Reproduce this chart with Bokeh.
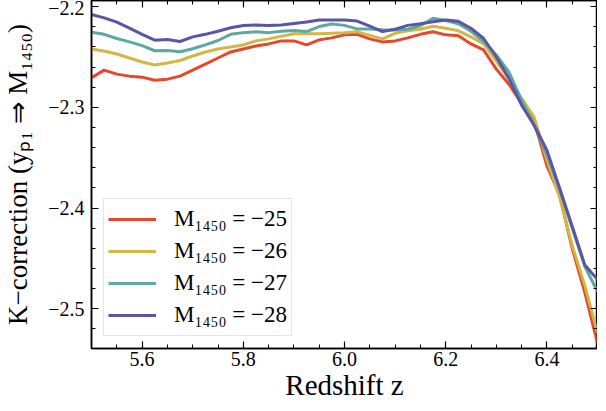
from bokeh.plotting import figure
from bokeh.models import LinearAxis, Range1d, SingleIntervalTicker, CustomJSTickFormatter
from bokeh.embed import file_html
from bokeh.resources import INLINE

z = [5.5, 5.525, 5.55, 5.575, 5.6, 5.625, 5.65, 5.675, 5.7, 5.725, 5.75, 5.775, 5.8, 5.825,
     5.85, 5.875, 5.9, 5.925, 5.95, 5.975, 6.0, 6.025, 6.05, 6.075, 6.1, 6.125, 6.15, 6.175,
     6.2, 6.225, 6.25, 6.275, 6.3, 6.325, 6.35, 6.375, 6.4, 6.425, 6.45, 6.475, 6.5]

k_m25 = [-2.2706, -2.263, -2.267, -2.269, -2.270, -2.273, -2.272, -2.269, -2.263, -2.257,
         -2.251, -2.245, -2.242, -2.239, -2.237, -2.234, -2.234, -2.238, -2.233, -2.231,
         -2.228, -2.2275, -2.232, -2.235, -2.234, -2.231, -2.2275, -2.225, -2.228, -2.229,
         -2.237, -2.243, -2.262, -2.277, -2.296, -2.314, -2.358, -2.387, -2.440, -2.484, -2.534]

k_m26 = [-2.242, -2.244, -2.247, -2.251, -2.255, -2.258, -2.256, -2.2535, -2.249, -2.245,
         -2.242, -2.240, -2.238, -2.234, -2.232, -2.2295, -2.227, -2.227, -2.227, -2.2265,
         -2.226, -2.225, -2.2285, -2.232, -2.2265, -2.224, -2.2225, -2.2195, -2.2215, -2.224,
         -2.230, -2.237, -2.254, -2.272, -2.291, -2.310, -2.352, -2.389, -2.437, -2.477, -2.524]

k_m27 = [-2.2255, -2.2275, -2.2316, -2.235, -2.2387, -2.2438, -2.2435, -2.2448, -2.2418, -2.238,
         -2.2336, -2.2275, -2.2258, -2.225, -2.2258, -2.2244, -2.2237, -2.2247, -2.2198, -2.2173,
         -2.2186, -2.2221, -2.2221, -2.2229, -2.2231, -2.2224, -2.219, -2.2115, -2.2137, -2.217,
         -2.2244, -2.2346, -2.248, -2.265, -2.2927, -2.318, -2.347, -2.381, -2.420, -2.458, -2.483]

k_m28 = [-2.2078, -2.2112, -2.2153, -2.2214, -2.2275, -2.2333, -2.2326, -2.2346, -2.230, -2.2275,
         -2.2244, -2.221, -2.2188, -2.2183, -2.2186, -2.2183, -2.2168, -2.2153, -2.2132, -2.2132,
         -2.2132, -2.2143, -2.2193, -2.2247, -2.2224, -2.2186, -2.217, -2.2149, -2.2132, -2.2146,
         -2.2214, -2.2316, -2.250, -2.2713, -2.2978, -2.318, -2.3426, -2.380, -2.418, -2.4566, -2.471]

series = [
    ("M\u2081\u2084\u2085\u2080 = \u221225", k_m25, "#e5482c"),
    ("M\u2081\u2084\u2085\u2080 = \u221226", k_m26, "#d2b843"),
    ("M\u2081\u2084\u2085\u2080 = \u221227", k_m27, "#5ba9a1"),
    ("M\u2081\u2084\u2085\u2080 = \u221228", k_m28, "#5b54a8"),
]

FONT = "Liberation Serif"
X0, X1 = 5.5, 6.5
Y0, Y1 = -2.5394, -2.1939

p = figure(width=597, height=403, output_backend="svg", toolbar_location=None,
           x_range=Range1d(X0, X1), y_range=Range1d(Y0, Y1), min_border=0,
           min_border_left=87, min_border_right=0, min_border_top=0, min_border_bottom=0)

p.xgrid.visible = False
p.ygrid.visible = False
p.outline_line_color = "black"
p.outline_line_width = 1.5
p.background_fill_color = "white"
p.border_fill_color = "white"

for label, vals, col in series:
    p.line(z, vals, line_width=3, color=col, legend_label=label)

xt = SingleIntervalTicker(interval=0.2, num_minor_ticks=4)
yt = SingleIntervalTicker(interval=0.1, num_minor_ticks=5)
fmt = CustomJSTickFormatter(code="return tick.toFixed(1).replace('-', '\\u2212');")
blank = CustomJSTickFormatter(code="return '';")

def style(ax, ticker, labels=True):
    ax.ticker = ticker
    ax.major_tick_in = 7
    ax.major_tick_out = 0
    ax.minor_tick_in = 4
    ax.minor_tick_out = 0
    ax.major_tick_line_color = "black"
    ax.minor_tick_line_color = "black"
    ax.major_tick_line_width = 1.2
    ax.minor_tick_line_width = 1
    ax.axis_line_color = "black"
    ax.axis_line_width = 1.5
    if labels:
        ax.formatter = fmt
        ax.major_label_text_font = FONT
        ax.major_label_text_font_size = "20px"
        ax.major_label_text_color = "black"
        ax.axis_label_text_font = FONT
        ax.axis_label_text_font_style = "normal"
        ax.axis_label_text_color = "black"
    else:
        ax.formatter = blank
        ax.major_label_text_font_size = "1px"
        ax.major_label_standoff = 0
        ax.axis_label = None

style(p.xaxis[0], xt)
style(p.yaxis[0], yt)
p.xaxis[0].axis_label = "Redshift z"
p.xaxis[0].axis_label_text_font_size = "29px"
p.xaxis[0].major_label_standoff = 3
p.xaxis[0].axis_label_standoff = 0
p.yaxis[0].axis_label = "K\u2212correction (y\u209a\u2081 \u21d2 M\u2081\u2084\u2085\u2080)"
p.yaxis[0].axis_label_text_font_size = "27px"
p.yaxis[0].major_label_standoff = 7
p.yaxis[0].axis_label_standoff = 12

# mirrored tick marks on the top and right edges of the frame
top = LinearAxis(fixed_location=Y1)
style(top, xt, labels=False)
p.add_layout(top, "above")
right = LinearAxis(fixed_location=X1)
style(right, yt, labels=False)
p.add_layout(right, "right")

lg = p.legend[0]
lg.location = "bottom_left"
lg.margin = 12
lg.padding = 4
lg.spacing = 0
lg.glyph_width = 48
lg.glyph_height = 32
lg.label_height = 32
lg.label_standoff = 18
lg.label_text_font = FONT
lg.label_text_font_size = "23px"
lg.label_text_color = "black"
lg.border_line_color = "#cccccc"
lg.border_line_width = 1
lg.background_fill_alpha = 0.85

open("out.html", "w").write(file_html(p, INLINE))
